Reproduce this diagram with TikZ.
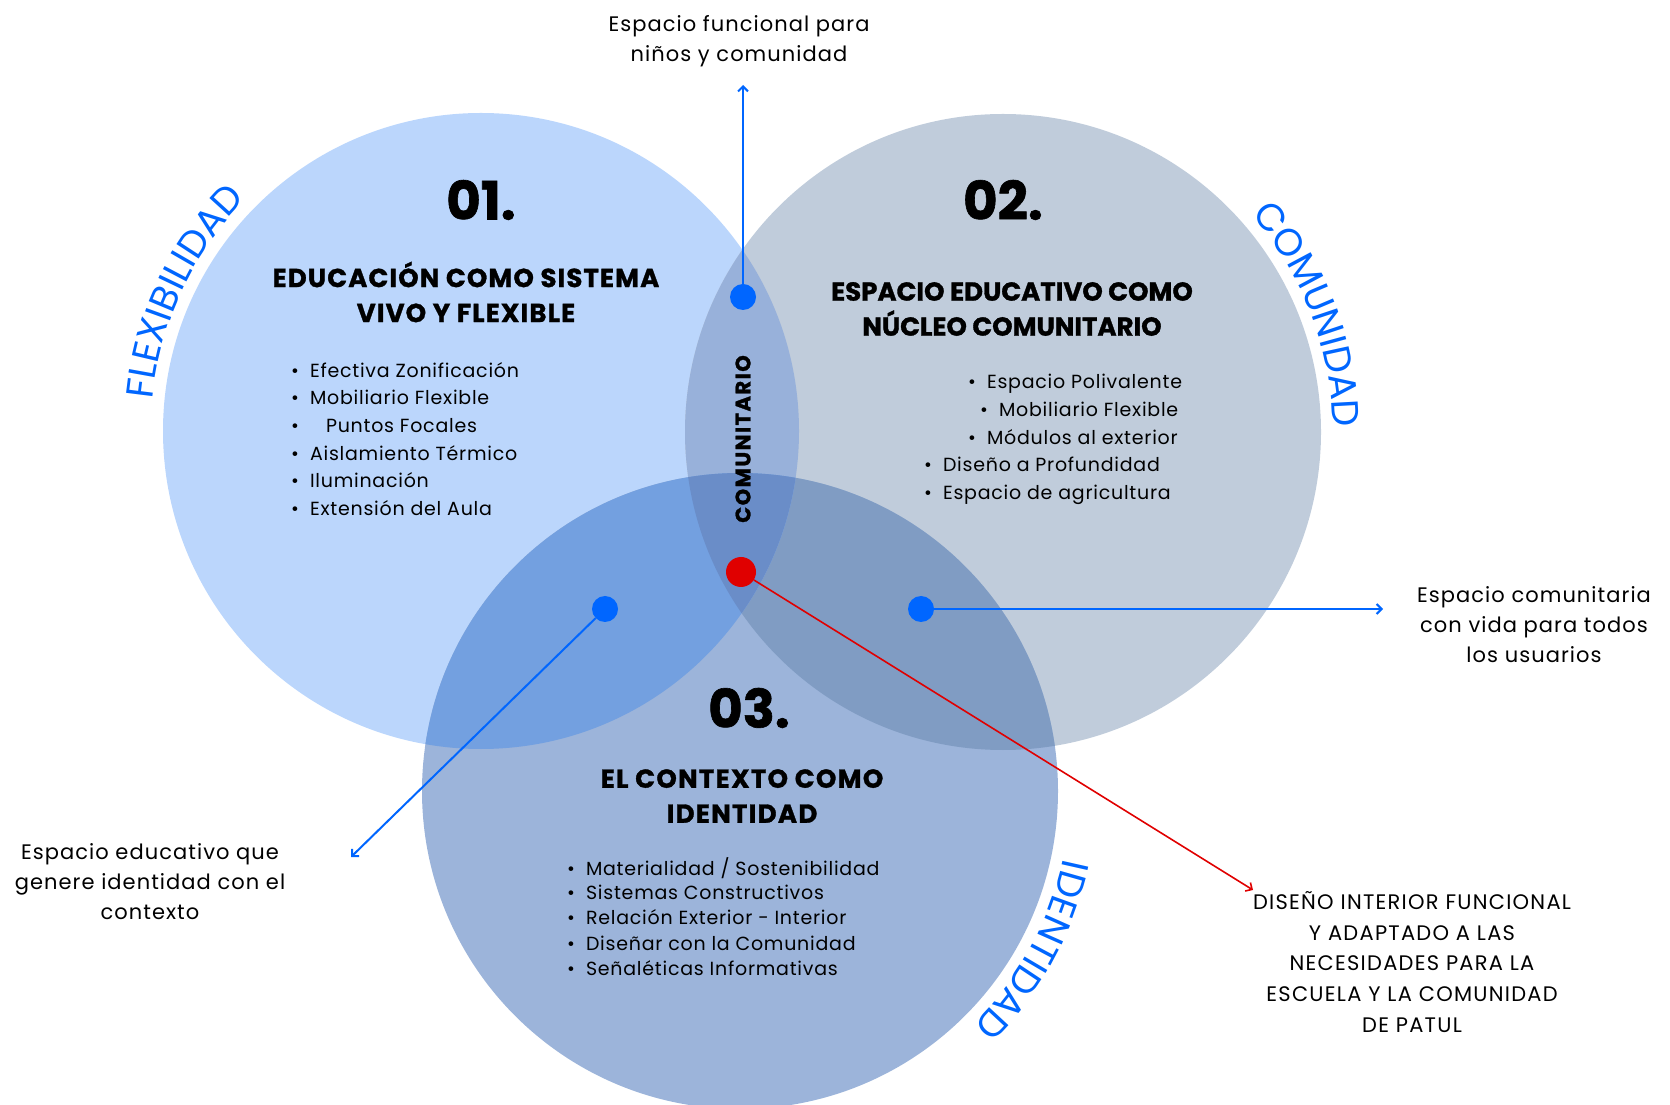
\documentclass[tikz,border=0pt]{standalone}
\usepackage{fontspec}
\setmainfont{Poppins}[BoldFeatures={FakeBold=1.2}]
\usepackage{xcolor}
\usepackage{tikz}
\usetikzlibrary{calc}
\usetikzlibrary{arrows.meta, positioning, decorations.text}

\definecolor{circA}{HTML}{BBD6FC}
\definecolor{circB}{HTML}{C0CCDB}
\definecolor{circC}{HTML}{9CB4DA}
\definecolor{circAB}{HTML}{98B1DA}
\definecolor{circAC}{HTML}{73A0E0}
\definecolor{circBC}{HTML}{809CC3}
\definecolor{circABC}{HTML}{6A8DC8}
\definecolor{linkblue}{HTML}{0066FF}
\definecolor{linkred}{HTML}{E00000}

\newcommand{\curvefont}{\fontsize{38}{42}\selectfont}

\tikzset{
	item/.style={anchor=base west, inner sep=0pt, font=\fontsize{19}{23}\selectfont\addfontfeature{LetterSpace=4}},
	heading/.style={align=center, inner sep=0pt, font=\bfseries\fontsize{26}{35}\selectfont\addfontfeature{LetterSpace=4.3}},
	bignum/.style={inner sep=0pt, font=\bfseries\fontsize{53}{60}\selectfont\addfontfeature{FakeBold=2}},
	callout/.style={align=center, inner sep=0pt, font=\fontsize{21}{30}\selectfont\addfontfeature{LetterSpace=5}},
	dot/.style={circle, fill=linkblue, minimum size=26pt, inner sep=0pt},
	link/.style={linkblue, line width=2pt, -{Straight Barb[length=5pt, width=10pt]}},
}

\begin{document}
\begin{tikzpicture}[x=1pt, y=1pt]
			\useasboundingbox (0,0) rectangle (1670,1104);
			\clip (0,0) rectangle (1670,1104);
			
			% Circles
			\coordinate (edu) at (481,673);
			\coordinate (com) at (1003,672);
			\coordinate (ctx) at (740,313);
			\fill[circA] (edu) circle (318pt);
			\fill[circB] (com) circle (318pt);
			\fill[circC] (ctx) circle (318pt);
			
			% Overlaps
			\begin{scope}
				\clip (com) circle (318pt);
				\fill[circBC] (ctx) circle (318pt);
			\end{scope}
			\begin{scope}
				\clip (edu) circle (318pt);
				\fill[circAB] (com) circle (318pt);
				\fill[circAC] (ctx) circle (318pt);
				\clip (com) circle (318pt);
				\fill[circABC] (ctx) circle (318pt);
			\end{scope}
			
			% Curved titles
			\path[decorate, decoration={text along path, text align=center,
				text={|\curvefont\color{linkblue}|FLEXIBILIDAD}}]
				($(edu)+(186:330pt)$) arc[start angle=186, end angle=124, radius=330pt];
			\path[decorate, decoration={text along path, text align=center,
				text={|\curvefont\color{linkblue}|COMUNIDAD}}]
				($(com)+(52:330pt)$) arc[start angle=52, end angle=-10, radius=330pt];
			\path[decorate, decoration={text along path, text align=center,
				text={|\curvefont\color{linkblue}|IDENTIDAD}}]
				($(ctx)+(3:330pt)$) arc[start angle=3, end angle=-60, radius=330pt];
			
			% Numbers and headings
			\node[bignum] (num1) at (481,904) {01.};
			\node[bignum] (num2) at (1003,904) {02.};
			\node[bignum] (num3) at (749,396) {03.};
			\node[heading] (head1) at (466,812) {EDUCACIÓN COMO SISTEMA\\VIVO Y FLEXIBLE};
			\node[heading, font=\bfseries\fontsize{26}{35}\selectfont] (head2) at (1012,795) {ESPACIO EDUCATIVO COMO\\NÚCLEO COMUNITARIO};
			\node[heading, font=\bfseries\fontsize{26}{35}\selectfont\addfontfeature{LetterSpace=5}] (head3) at (742,308) {EL CONTEXTO COMO\\IDENTIDAD};
			\node[rotate=90, inner sep=0pt, font=\bfseries\fontsize{21}{24}\selectfont\addfontfeature{LetterSpace=7}] (comunitario) at (743,665) {COMUNITARIO};
			
			% Lists
			\foreach \x/\y/\txt in {291/726/Efectiva Zonificación, 291/699/Mobiliario Flexible,
				291/671/\hspace{16pt}Puntos Focales, 291/643/Aislamiento Térmico,
				291/616/Iluminación, 291/588/Extensión del Aula} {
				\node[item] at (\x,\y) {\textbullet\hspace{11pt}\txt};
			}
			\foreach \x/\y/\txt in {968/715/Espacio Polivalente, 980/687/Mobiliario Flexible,
				968/659/Módulos al exterior, 924/632/Diseño a Profundidad,
				924/604/Espacio de agricultura} {
				\node[item] at (\x,\y) {\textbullet\hspace{11pt}\txt};
			}
			\foreach \x/\y/\txt in {567/229/{Materialidad / Sostenibilidad}, 567/205/Sistemas Constructivos,
				567/180/Relación Exterior - Interior, 567/154/Diseñar con la Comunidad,
				567/129/Señaléticas Informativas} {
				\node[item] at (\x,\y) {\textbullet\hspace{11pt}\txt};
			}
			
			% Notes
			\node[callout] (topnote) at (739,1063) {Espacio funcional para\\niños y comunidad};
			\node[callout] (rightnote) at (1534,479) {Espacio comunitaria\\con vida para todos\\los usuarios};
			\node[callout] (leftnote) at (150,222) {Espacio educativo que\\genere identidad con el\\contexto};
			\node[callout, font=\fontsize{21}{30.6}\selectfont\addfontfeature{LetterSpace=6}] (rednote) at (1412,142) {DISEÑO INTERIOR FUNCIONAL\\Y ADAPTADO A LAS\\NECESIDADES PARA LA\\ESCUELA Y LA COMUNIDAD\\DE PATUL};
			
			% Dots and connectors
			\node[dot] (dtop) at (743,807) {};
			\node[dot, fill=linkred, minimum size=30pt] (dred) at (741,532) {};
			\node[dot] (dleft) at (605,495) {};
			\node[dot] (dright) at (921,495) {};
			\coordinate (etop) at (743,1019);
			\coordinate (eleft) at (351,247);
			\coordinate (eright) at (1383,495);
			\coordinate (ered) at (1253,214);
			\draw[link] (dtop) -- (etop);
			\draw[link] (dleft) -- (eleft);
			\draw[link] (dright) -- (eright);
			\draw[link, linkred, line width=1.6pt] (dred) -- (ered);
\end{tikzpicture}
\end{document}
